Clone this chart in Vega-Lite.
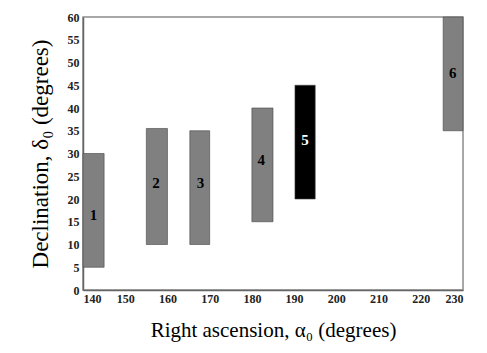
{
  "$schema": "https://vega.github.io/schema/vega-lite/v6.json",
  "width": 380,
  "height": 273,
  "autosize": {"type": "none"},
  "padding": {"left": 83, "top": 17, "right": 24, "bottom": 63},
  "background": "white",
  "config": {
    "view": {"stroke": "#8c8c8c", "strokeWidth": 1.5},
    "font": "Liberation Serif",
    "axis": {"labelOverlap": false}
  },
  "data": {
    "values": [
      {"region": "1", "ra1": 140, "ra2": 145, "labelRa": 142.5, "dec1": 5, "dec2": 30, "labelDec": 16.5, "kind": "grey"},
      {"region": "2", "ra1": 155, "ra2": 160, "labelRa": 157.3, "dec1": 10, "dec2": 35.5, "labelDec": 23.5, "kind": "grey"},
      {"region": "3", "ra1": 165.3, "ra2": 170, "labelRa": 167.8, "dec1": 10, "dec2": 35, "labelDec": 23.5, "kind": "grey"},
      {"region": "4", "ra1": 180, "ra2": 185, "labelRa": 182.2, "dec1": 15, "dec2": 40, "labelDec": 28.5, "kind": "grey"},
      {"region": "5", "ra1": 190.2, "ra2": 195, "labelRa": 192.6, "dec1": 20, "dec2": 45, "labelDec": 33, "kind": "black"},
      {"region": "6", "ra1": 225.3, "ra2": 230, "labelRa": 227.6, "dec1": 35, "dec2": 60, "labelDec": 47.7, "kind": "grey"}
    ]
  },
  "layer": [
    {
      "mark": {"type": "rect", "stroke": "#444", "strokeWidth": 0.6},
      "encoding": {
        "x": {
          "field": "ra1", "type": "quantitative",
          "scale": {"domain": [140, 230], "nice": false, "zero": false},
          "axis": {
            "title": "Right ascension, α₀ (degrees)",
            "titleFont": "Liberation Serif", "titleFontSize": 21, "titleFontWeight": "normal",
            "titleColor": "black", "titlePadding": 15,
            "values": [140, 150, 160, 170, 180, 190, 200, 210, 220, 230],
            "labelFont": "Liberation Serif", "labelFontWeight": "bold", "labelFontSize": 12,
            "labelColor": "#222", "labelPadding": 3, "ticks": false, "labelOverlap": false,
            "grid": false, "domainColor": "#666", "domainWidth": 1.5
          }
        },
        "x2": {"field": "ra2"},
        "y": {
          "field": "dec1", "type": "quantitative",
          "scale": {"domain": [0, 60], "nice": false},
          "axis": {
            "title": "Declination, δ₀ (degrees)",
            "titleFont": "Liberation Serif", "titleFontSize": 23, "titleFontWeight": "normal",
            "titleColor": "black", "titlePadding": 15,
            "values": [0, 5, 10, 15, 20, 25, 30, 35, 40, 45, 50, 55, 60],
            "labelFont": "Liberation Serif", "labelFontWeight": "bold", "labelFontSize": 12,
            "labelColor": "#222", "labelPadding": 4, "ticks": false, "labelOverlap": false,
            "grid": false, "domainColor": "#666", "domainWidth": 1.5
          }
        },
        "y2": {"field": "dec2"},
        "fill": {
          "field": "kind", "type": "nominal",
          "scale": {"domain": ["grey", "black"], "range": ["#808080", "#000000"]},
          "legend": null
        }
      }
    },
    {
      "mark": {"type": "text", "font": "Liberation Serif", "fontWeight": "bold", "fontSize": 15, "baseline": "middle", "align": "center"},
      "encoding": {
        "x": {
          "field": "labelRa", "type": "quantitative",
          "axis": {
            "title": "Right ascension, α₀ (degrees)",
            "titleFont": "Liberation Serif", "titleFontSize": 21, "titleFontWeight": "normal",
            "titleColor": "black", "titlePadding": 15,
            "values": [140, 150, 160, 170, 180, 190, 200, 210, 220, 230],
            "labelFont": "Liberation Serif", "labelFontWeight": "bold", "labelFontSize": 12,
            "labelColor": "#222", "labelPadding": 3, "ticks": false, "labelOverlap": false,
            "grid": false, "domainColor": "#666", "domainWidth": 1.5
          }
        },
        "text": {"field": "region"},
        "y": {
          "field": "labelDec", "type": "quantitative",
          "axis": {
            "title": "Declination, δ₀ (degrees)",
            "titleFont": "Liberation Serif", "titleFontSize": 23, "titleFontWeight": "normal",
            "titleColor": "black", "titlePadding": 15,
            "values": [0, 5, 10, 15, 20, 25, 30, 35, 40, 45, 50, 55, 60],
            "labelFont": "Liberation Serif", "labelFontWeight": "bold", "labelFontSize": 12,
            "labelColor": "#222", "labelPadding": 4, "ticks": false, "labelOverlap": false,
            "grid": false, "domainColor": "#666", "domainWidth": 1.5
          }
        },
        "color": {
          "field": "kind", "type": "nominal",
          "scale": {"domain": ["grey", "black"], "range": ["#000000", "#ffffff"]},
          "legend": null
        }
      }
    }
  ]
}
